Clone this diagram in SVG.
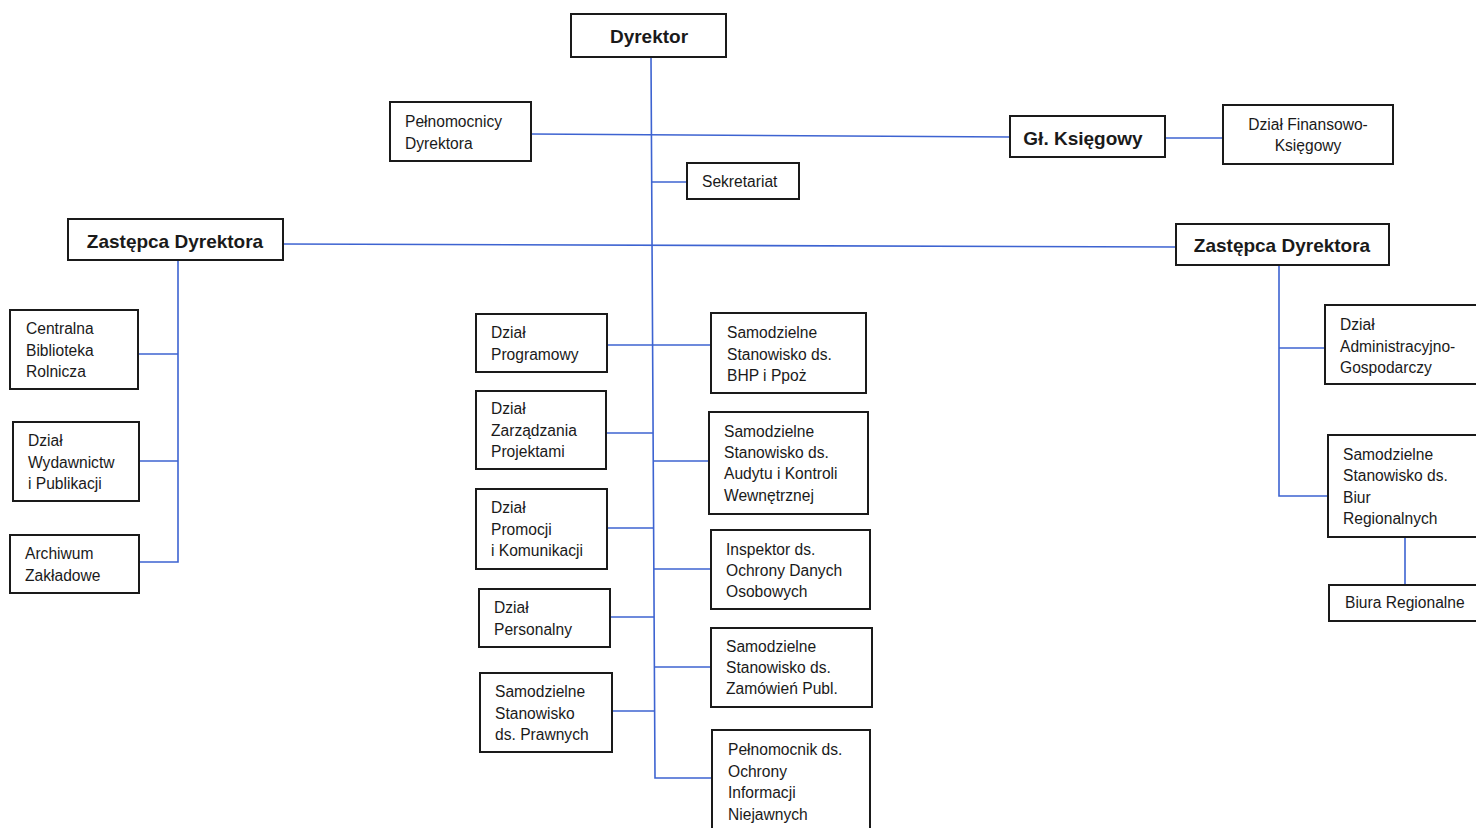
<svg xmlns="http://www.w3.org/2000/svg" width="1476" height="828" viewBox="0 0 1476 828">
<style>
.b{fill:#fff;stroke:#1a1a1a;stroke-width:2}
.t{font-family:"Liberation Sans",Arial,sans-serif;font-size:15.6px;fill:#1a1a1a}
.h{font-family:"Liberation Sans",Arial,sans-serif;font-size:19px;font-weight:bold;fill:#1a1a1a;text-anchor:middle}
.c{text-anchor:middle}
.l{stroke:#3d63d1;stroke-width:1.6;fill:none}
</style>
<rect width="1476" height="828" fill="#fff"/>
<g id="connectors">
<path class="l" d="M651 57L655 778H712"/>
<path class="l" d="M531 134L1010 137"/>
<path class="l" d="M1165 138H1223"/>
<path class="l" d="M652 182H687"/>
<path class="l" d="M283 244L1176 247"/>
<path class="l" d="M178 260V562H139"/>
<path class="l" d="M138 354H178"/>
<path class="l" d="M139 461H178"/>
<path class="l" d="M607 345H711"/>
<path class="l" d="M606 433H653"/>
<path class="l" d="M653 461H709"/>
<path class="l" d="M607 528H654"/>
<path class="l" d="M654 569H711"/>
<path class="l" d="M610 617H654"/>
<path class="l" d="M654 667H711"/>
<path class="l" d="M612 711H655"/>
<path class="l" d="M1279 265V496H1328"/>
<path class="l" d="M1279 348H1325"/>
<path class="l" d="M1405 537V585"/>
</g>
<g id="dyrektor"><rect class="b" x="571" y="14" width="155" height="43"/><text class="h" x="649" y="43">Dyrektor</text></g>
<g id="pelnomocnicy"><rect class="b" x="390" y="102" width="141" height="59"/><text class="t" x="405" y="127">Pełnomocnicy</text><text class="t" x="405" y="149">Dyrektora</text></g>
<g id="glksiegowy"><rect class="b" x="1010" y="116" width="155" height="41"/><text class="h" x="1083" y="145">Gł. Księgowy</text></g>
<g id="finansowy"><rect class="b" x="1223" y="105" width="170" height="59"/><text class="t c" x="1308" y="130">Dział Finansowo-</text><text class="t c" x="1308" y="151">Księgowy</text></g>
<g id="sekretariat"><rect class="b" x="687" y="163" width="112" height="36"/><text class="t" x="702" y="187">Sekretariat</text></g>
<g id="zastepca-l"><rect class="b" x="68" y="219" width="215" height="41"/><text class="h" x="175" y="248">Zastępca Dyrektora</text></g>
<g id="zastepca-r"><rect class="b" x="1176" y="224" width="213" height="41"/><text class="h" x="1282" y="252">Zastępca Dyrektora</text></g>
<g id="cbr"><rect class="b" x="10" y="310" width="128" height="79"/><text class="t" x="26" y="334">Centralna</text><text class="t" x="26" y="356">Biblioteka</text><text class="t" x="26" y="377">Rolnicza</text></g>
<g id="wydawnictw"><rect class="b" x="13" y="422" width="126" height="79"/><text class="t" x="28" y="446">Dział</text><text class="t" x="28" y="468">Wydawnictw</text><text class="t" x="28" y="489">i Publikacji</text></g>
<g id="archiwum"><rect class="b" x="10" y="535" width="129" height="58"/><text class="t" x="25" y="559">Archiwum</text><text class="t" x="25" y="581">Zakładowe</text></g>
<g id="programowy"><rect class="b" x="476" y="314" width="131" height="58"/><text class="t" x="491" y="338">Dział</text><text class="t" x="491" y="360">Programowy</text></g>
<g id="projektami"><rect class="b" x="476" y="391" width="130" height="78"/><text class="t" x="491" y="414">Dział</text><text class="t" x="491" y="436">Zarządzania</text><text class="t" x="491" y="457">Projektami</text></g>
<g id="promocji"><rect class="b" x="476" y="489" width="131" height="80"/><text class="t" x="491" y="513">Dział</text><text class="t" x="491" y="535">Promocji</text><text class="t" x="491" y="556">i Komunikacji</text></g>
<g id="personalny"><rect class="b" x="479" y="589" width="131" height="58"/><text class="t" x="494" y="613">Dział</text><text class="t" x="494" y="635">Personalny</text></g>
<g id="prawnych"><rect class="b" x="480" y="673" width="132" height="79"/><text class="t" x="495" y="697">Samodzielne</text><text class="t" x="495" y="719">Stanowisko</text><text class="t" x="495" y="740">ds. Prawnych</text></g>
<g id="bhp"><rect class="b" x="711" y="313" width="155" height="80"/><text class="t" x="727" y="338">Samodzielne</text><text class="t" x="727" y="360">Stanowisko ds.</text><text class="t" x="727" y="381">BHP i Ppoż</text></g>
<g id="audytu"><rect class="b" x="709" y="412" width="159" height="102"/><text class="t" x="724" y="437">Samodzielne</text><text class="t" x="724" y="458">Stanowisko ds.</text><text class="t" x="724" y="479">Audytu i Kontroli</text><text class="t" x="724" y="501">Wewnętrznej</text></g>
<g id="inspektor"><rect class="b" x="711" y="530" width="159" height="79"/><text class="t" x="726" y="555">Inspektor ds.</text><text class="t" x="726" y="576">Ochrony Danych</text><text class="t" x="726" y="597">Osobowych</text></g>
<g id="zamowien"><rect class="b" x="711" y="628" width="161" height="79"/><text class="t" x="726" y="652">Samodzielne</text><text class="t" x="726" y="673">Stanowisko ds.</text><text class="t" x="726" y="694">Zamówień Publ.</text></g>
<g id="niejawnych"><rect class="b" x="712" y="730" width="158" height="110"/><text class="t" x="728" y="755">Pełnomocnik ds.</text><text class="t" x="728" y="777">Ochrony</text><text class="t" x="728" y="798">Informacji</text><text class="t" x="728" y="820">Niejawnych</text></g>
<g id="administracyjny"><rect class="b" x="1325" y="305" width="160" height="79"/><text class="t" x="1340" y="330">Dział</text><text class="t" x="1340" y="352">Administracyjno-</text><text class="t" x="1340" y="373">Gospodarczy</text></g>
<g id="biur"><rect class="b" x="1328" y="435" width="160" height="102"/><text class="t" x="1343" y="460">Samodzielne</text><text class="t" x="1343" y="481">Stanowisko ds.</text><text class="t" x="1343" y="503">Biur</text><text class="t" x="1343" y="524">Regionalnych</text></g>
<g id="biura"><rect class="b" x="1329" y="585" width="160" height="36"/><text class="t" x="1345" y="608">Biura Regionalne</text></g>
</svg>
